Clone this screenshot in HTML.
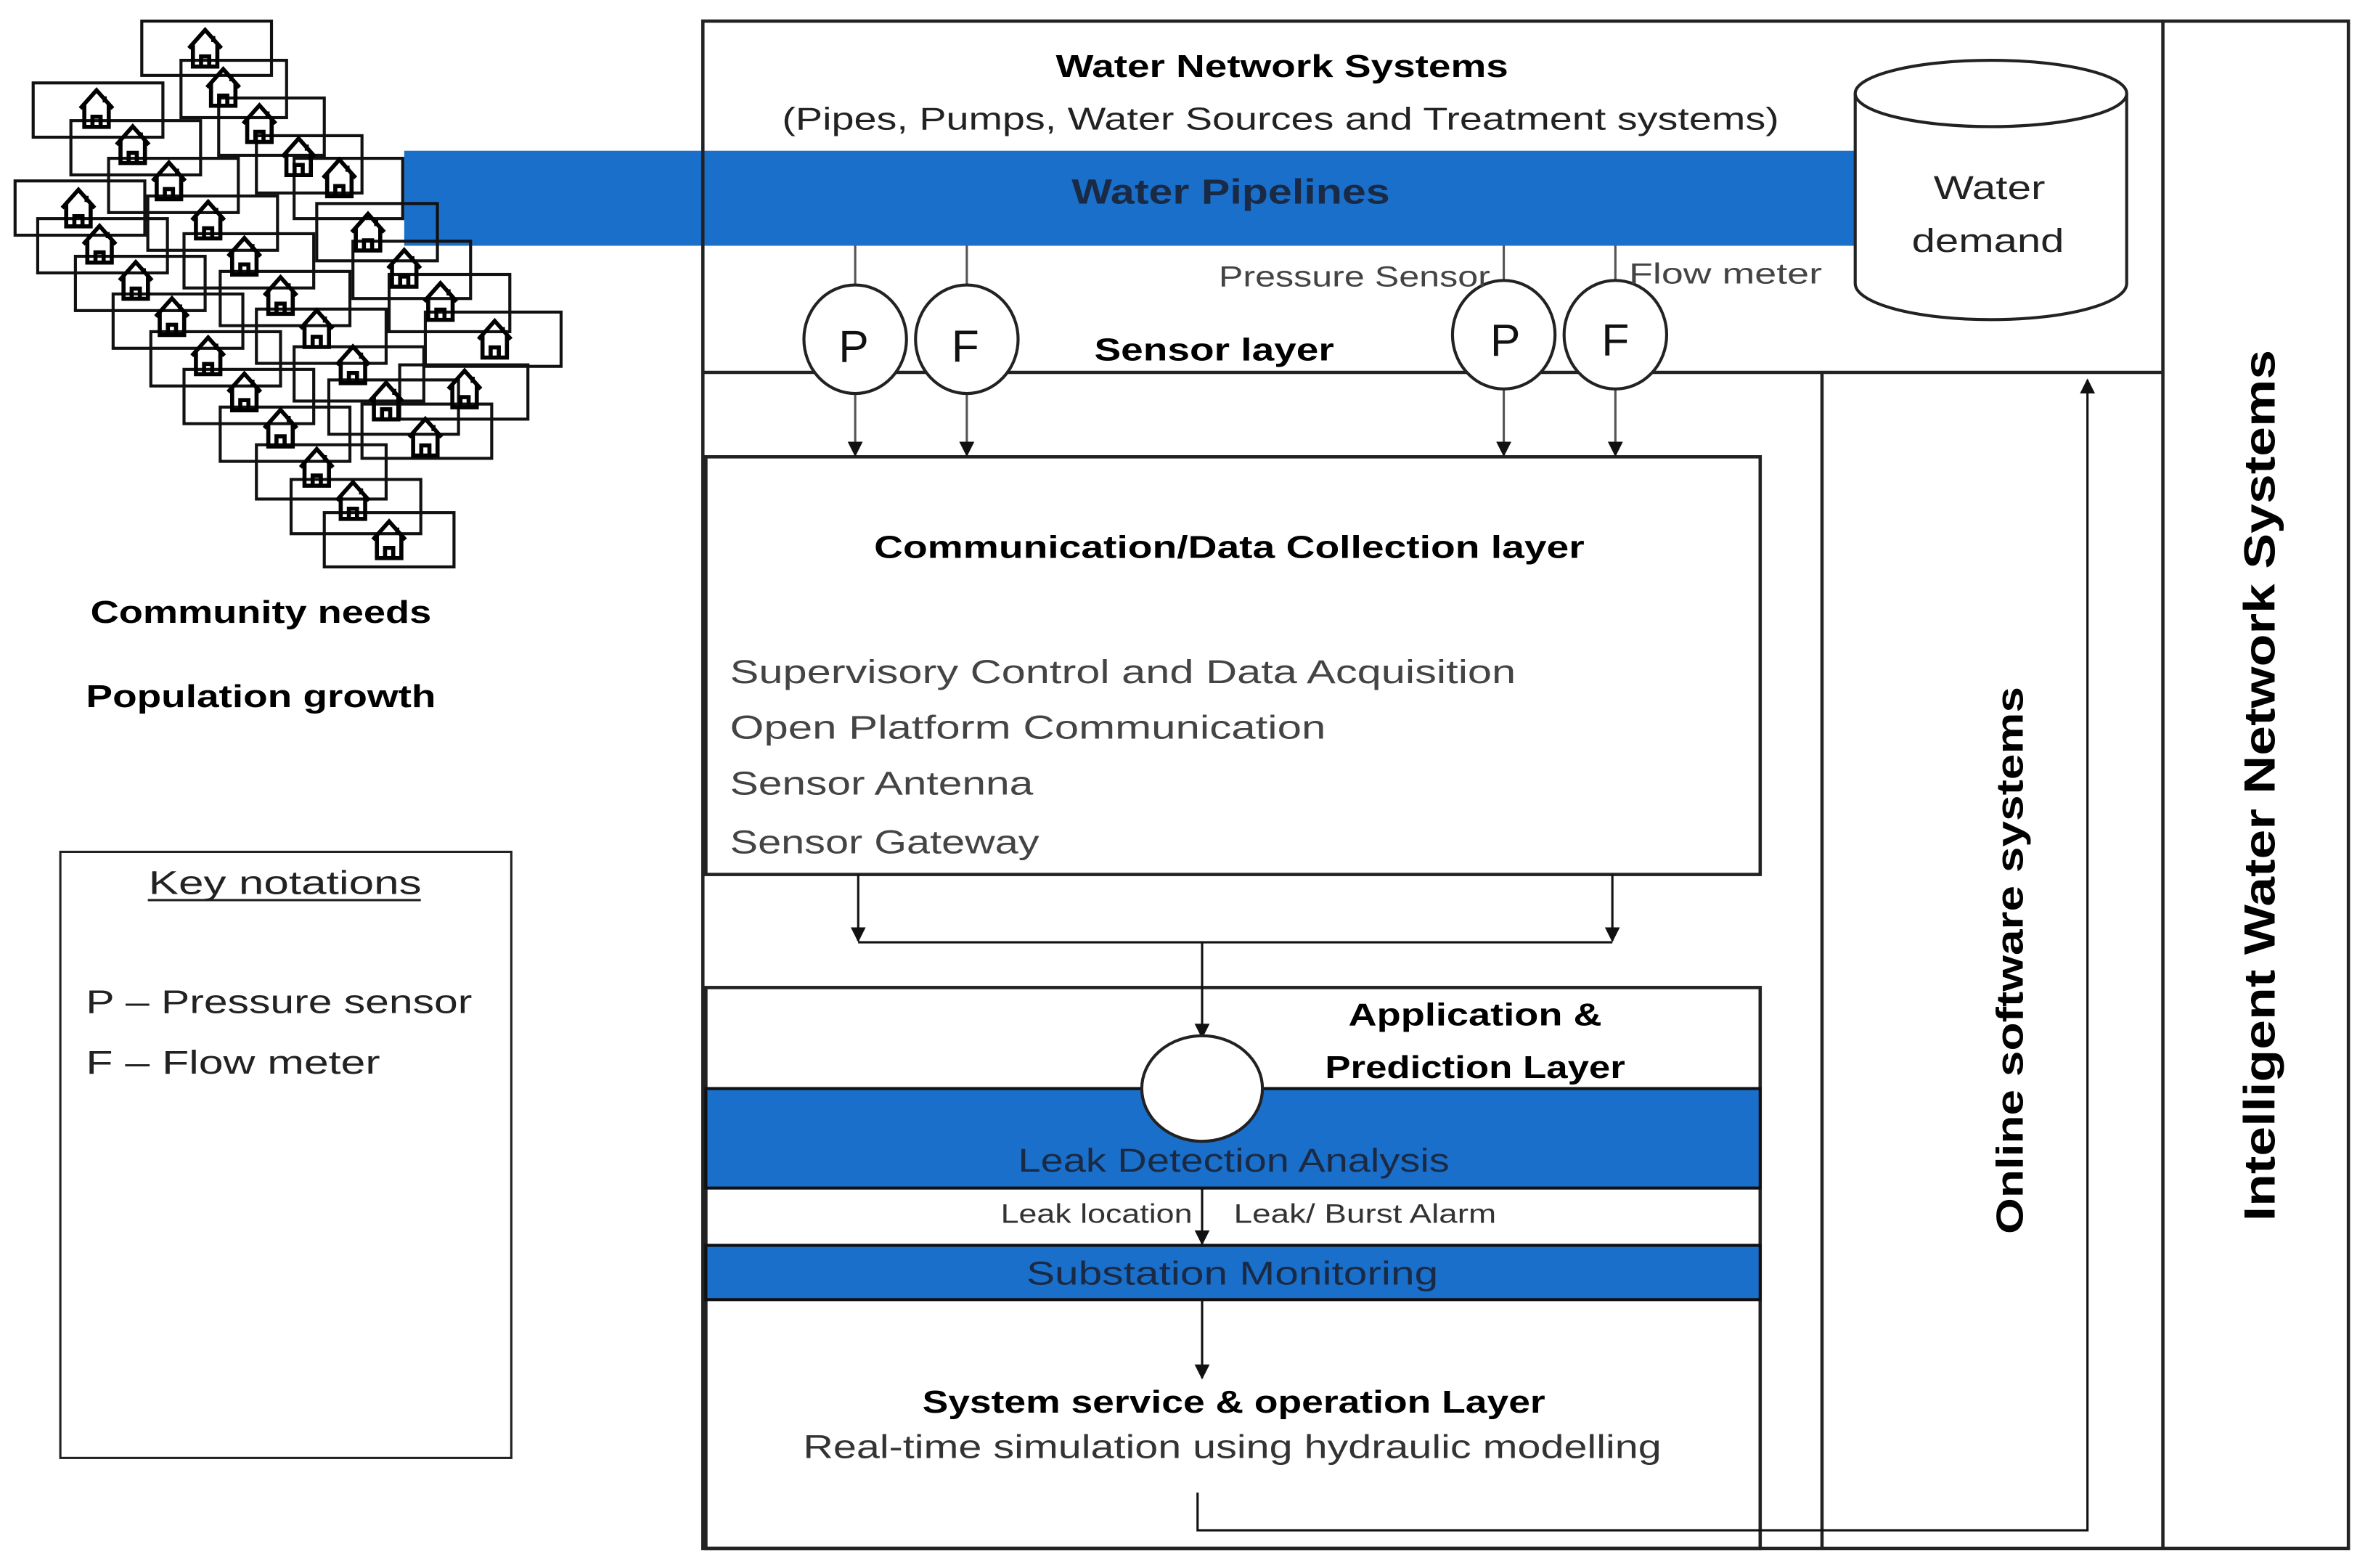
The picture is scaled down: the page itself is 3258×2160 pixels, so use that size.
<!DOCTYPE html>
<html><head><meta charset="utf-8"><style>
html,body{margin:0;padding:0;background:#fff;}
svg{display:block}
text{font-family:"Liberation Sans",sans-serif;}
</style></head><body>
<svg id="s" width="3258" height="2160" viewBox="0 0 1568 1040" preserveAspectRatio="none" xmlns="http://www.w3.org/2000/svg">
<defs>
<marker id="ah" markerWidth="10" markerHeight="10" refX="9" refY="5" orient="auto" markerUnits="userSpaceOnUse"><path d="M0,0 L10,5 L0,10 z" fill="#111"/></marker>
<g id="house"><path d="M-8,0 L0,-9 L8,0 M-6,-2 V9 H6 V-2 M-2,9 V4 H2 V9 M4,-6 V-3" fill="none" stroke="#000" stroke-width="2" transform="scale(1.35)"/></g>
</defs>
<rect width="1568" height="1040" fill="#fff"/>

<!-- pipeline -->
<rect x="268" y="100" width="966" height="63" fill="#1a6fca"/>
<text x="816" y="135" font-size="23" font-weight="bold" fill="#1a2a44" text-anchor="middle" textLength="211" lengthAdjust="spacingAndGlyphs">Water Pipelines</text>

<!-- outer frames -->
<g fill="none" stroke="#222" stroke-width="2.2">
<rect x="466" y="14" width="1091" height="1013"/>
<line x1="1434" y1="14" x2="1434" y2="1027"/>
<line x1="466" y1="247" x2="1434" y2="247"/>
<line x1="1208" y1="247" x2="1208" y2="1027"/>
<rect x="468" y="303" width="699" height="277"/>
<rect x="468" y="655" width="699" height="372"/>
</g>
<text x="850" y="51" font-size="21" font-weight="bold" text-anchor="middle" textLength="300" lengthAdjust="spacingAndGlyphs">Water Network Systems</text>
<text x="849" y="86" font-size="21" text-anchor="middle" fill="#222" textLength="661" lengthAdjust="spacingAndGlyphs">(Pipes, Pumps, Water Sources and Treatment systems)</text>

<!-- cylinder -->
<path d="M1230,62 V188 A90,24 0 0 0 1410,188 V62" fill="#fff" stroke="#222" stroke-width="2"/>
<ellipse cx="1320" cy="62" rx="90" ry="22" fill="#fff" stroke="#222" stroke-width="2"/>
<text x="1319" y="132" font-size="22" text-anchor="middle" fill="#222" textLength="74" lengthAdjust="spacingAndGlyphs">Water</text>
<text x="1318" y="167" font-size="22" text-anchor="middle" fill="#222" textLength="101" lengthAdjust="spacingAndGlyphs">demand</text>

<!-- sensors -->
<g stroke="#555" stroke-width="1.5" marker-end="url(#ah)">
<line x1="567" y1="163" x2="567" y2="302"/>
<line x1="641" y1="163" x2="641" y2="302"/>
<line x1="997" y1="163" x2="997" y2="302"/>
<line x1="1071" y1="163" x2="1071" y2="302"/>
</g>
<g fill="#fff" stroke="#222" stroke-width="2">
<ellipse cx="567" cy="225" rx="34" ry="36"/><ellipse cx="641" cy="225" rx="34" ry="36"/>
<ellipse cx="997" cy="222" rx="34" ry="36"/><ellipse cx="1071" cy="222" rx="34" ry="36"/>
</g>
<g font-size="30" text-anchor="middle" fill="#111">
<text x="566" y="240">P</text><text x="640" y="240">F</text>
<text x="998" y="236">P</text><text x="1071" y="236">F</text>
</g>
<text x="898" y="190" font-size="19" fill="#444" text-anchor="middle" textLength="180" lengthAdjust="spacingAndGlyphs">Pressure Sensor</text>
<text x="1144" y="188" font-size="19" fill="#444" text-anchor="middle" textLength="128" lengthAdjust="spacingAndGlyphs">Flow meter</text>
<text x="805" y="239" font-size="21" font-weight="bold" text-anchor="middle" textLength="159" lengthAdjust="spacingAndGlyphs">Sensor layer</text>

<!-- comm layer -->
<text x="815" y="370" font-size="21" font-weight="bold" text-anchor="middle" textLength="471" lengthAdjust="spacingAndGlyphs">Communication/Data Collection layer</text>
<g font-size="22" fill="#444">
<text x="484" y="453" textLength="521" lengthAdjust="spacingAndGlyphs">Supervisory Control and Data Acquisition</text>
<text x="484" y="490" textLength="395" lengthAdjust="spacingAndGlyphs">Open Platform Communication</text>
<text x="484" y="527" textLength="201" lengthAdjust="spacingAndGlyphs">Sensor Antenna</text>
<text x="484" y="566" textLength="205" lengthAdjust="spacingAndGlyphs">Sensor Gateway</text>
</g>
<g stroke="#111" stroke-width="1.5" fill="none">
<line x1="569" y1="580" x2="569" y2="624" marker-end="url(#ah)"/>
<line x1="1069" y1="580" x2="1069" y2="624" marker-end="url(#ah)"/>
<line x1="569" y1="625" x2="1069" y2="625"/>
<line x1="797" y1="625" x2="797" y2="688" marker-end="url(#ah)"/>
</g>

<!-- application layer -->
<text x="978" y="680" font-size="21" font-weight="bold" text-anchor="middle" textLength="168" lengthAdjust="spacingAndGlyphs">Application &amp;</text>
<text x="978" y="715" font-size="21" font-weight="bold" text-anchor="middle" textLength="199" lengthAdjust="spacingAndGlyphs">Prediction Layer</text>
<rect x="468" y="722" width="699" height="66" fill="#1a6fca" stroke="#111" stroke-width="2"/>
<ellipse cx="797" cy="722" rx="40" ry="35" fill="#fff" stroke="#222" stroke-width="2"/>
<text x="818" y="777" font-size="22" fill="#1a2a44" text-anchor="middle" textLength="286" lengthAdjust="spacingAndGlyphs">Leak Detection Analysis</text>
<line x1="797" y1="788" x2="797" y2="825" stroke="#111" stroke-width="1.5" marker-end="url(#ah)"/>
<text x="727" y="811" font-size="18" fill="#333" text-anchor="middle" textLength="127" lengthAdjust="spacingAndGlyphs">Leak location</text>
<text x="905" y="811" font-size="18" fill="#333" text-anchor="middle" textLength="174" lengthAdjust="spacingAndGlyphs">Leak/ Burst Alarm</text>
<rect x="468" y="826" width="699" height="36" fill="#1a6fca" stroke="#111" stroke-width="2"/>
<text x="817" y="852" font-size="22" fill="#1a2a44" text-anchor="middle" textLength="273" lengthAdjust="spacingAndGlyphs">Substation Monitoring</text>
<line x1="797" y1="862" x2="797" y2="914" stroke="#111" stroke-width="1.5" marker-end="url(#ah)"/>
<text x="818" y="937" font-size="21" font-weight="bold" text-anchor="middle" textLength="413" lengthAdjust="spacingAndGlyphs">System service &amp; operation Layer</text>
<text x="817" y="967" font-size="22" fill="#333" text-anchor="middle" textLength="569" lengthAdjust="spacingAndGlyphs">Real-time simulation using hydraulic modelling</text>
<path d="M794,990 V1015 H1384 V252" fill="none" stroke="#111" stroke-width="1.5" marker-end="url(#ah)"/>

<!-- vertical labels -->
<text transform="translate(1341,637) rotate(-90)" font-size="25" font-weight="bold" text-anchor="middle" textLength="363" lengthAdjust="spacingAndGlyphs">Online software systems</text>
<text transform="translate(1508,521) rotate(-90)" font-size="29" font-weight="bold" text-anchor="middle" textLength="578" lengthAdjust="spacingAndGlyphs">Intelligent Water Network Systems</text>

<!-- left texts -->
<text x="173" y="413" font-size="21" font-weight="bold" text-anchor="middle" textLength="226" lengthAdjust="spacingAndGlyphs">Community needs</text>
<text x="173" y="469" font-size="21" font-weight="bold" text-anchor="middle" textLength="232" lengthAdjust="spacingAndGlyphs">Population growth</text>
<rect x="40" y="565" width="299" height="402" fill="none" stroke="#222" stroke-width="1.5"/>
<text x="189" y="593" font-size="22" text-anchor="middle" fill="#222" textLength="181" lengthAdjust="spacingAndGlyphs">Key notations</text>
<line x1="98" y1="597" x2="279" y2="597" stroke="#222" stroke-width="1.5"/>
<text x="57" y="672" font-size="22" fill="#222" textLength="256" lengthAdjust="spacingAndGlyphs">P – Pressure sensor</text>
<text x="57" y="712" font-size="22" fill="#222" textLength="195" lengthAdjust="spacingAndGlyphs">F – Flow meter</text>

<!-- houses -->
<g fill="none" stroke="#111" stroke-width="2">
<rect x="94" y="14" width="86" height="36"/><rect x="120" y="40" width="70" height="38"/>
<rect x="22" y="55" width="86" height="36"/><rect x="145" y="65" width="70" height="38"/>
<rect x="47" y="80" width="86" height="36"/><rect x="170" y="90" width="70" height="38"/>
<rect x="72" y="105" width="86" height="36"/><rect x="195" y="105" width="72" height="40"/>
<rect x="10" y="120" width="86" height="36"/><rect x="98" y="130" width="86" height="36"/>
<rect x="25" y="145" width="86" height="36"/><rect x="122" y="155" width="86" height="36"/>
<rect x="210" y="135" width="80" height="38"/><rect x="50" y="170" width="86" height="36"/>
<rect x="146" y="180" width="86" height="36"/><rect x="234" y="160" width="78" height="38"/>
<rect x="75" y="195" width="86" height="36"/><rect x="170" y="205" width="86" height="36"/>
<rect x="258" y="182" width="80" height="38"/><rect x="100" y="220" width="86" height="36"/>
<rect x="195" y="230" width="86" height="36"/><rect x="282" y="207" width="90" height="36"/>
<rect x="122" y="245" width="86" height="36"/><rect x="218" y="252" width="86" height="36"/>
<rect x="265" y="242" width="85" height="36"/><rect x="146" y="270" width="86" height="36"/>
<rect x="240" y="268" width="86" height="36"/><rect x="170" y="295" width="86" height="36"/>
<rect x="193" y="318" width="86" height="36"/><rect x="215" y="340" width="86" height="36"/>
</g>
<g>
<use href="#house" x="136" y="32"/><use href="#house" x="148" y="58"/><use href="#house" x="64" y="72"/>
<use href="#house" x="172" y="82"/><use href="#house" x="88" y="96"/><use href="#house" x="198" y="104"/>
<use href="#house" x="112" y="120"/><use href="#house" x="225" y="118"/><use href="#house" x="52" y="138"/>
<use href="#house" x="138" y="146"/><use href="#house" x="66" y="162"/><use href="#house" x="162" y="170"/>
<use href="#house" x="244" y="154"/><use href="#house" x="90" y="186"/><use href="#house" x="186" y="196"/>
<use href="#house" x="268" y="178"/><use href="#house" x="114" y="210"/><use href="#house" x="210" y="218"/>
<use href="#house" x="292" y="200"/><use href="#house" x="138" y="236"/><use href="#house" x="234" y="242"/>
<use href="#house" x="328" y="225"/><use href="#house" x="162" y="260"/><use href="#house" x="256" y="266"/>
<use href="#house" x="308" y="258"/><use href="#house" x="186" y="284"/><use href="#house" x="282" y="290"/>
<use href="#house" x="210" y="310"/><use href="#house" x="234" y="332"/><use href="#house" x="258" y="358"/>
</g>
</svg>
</body></html>
